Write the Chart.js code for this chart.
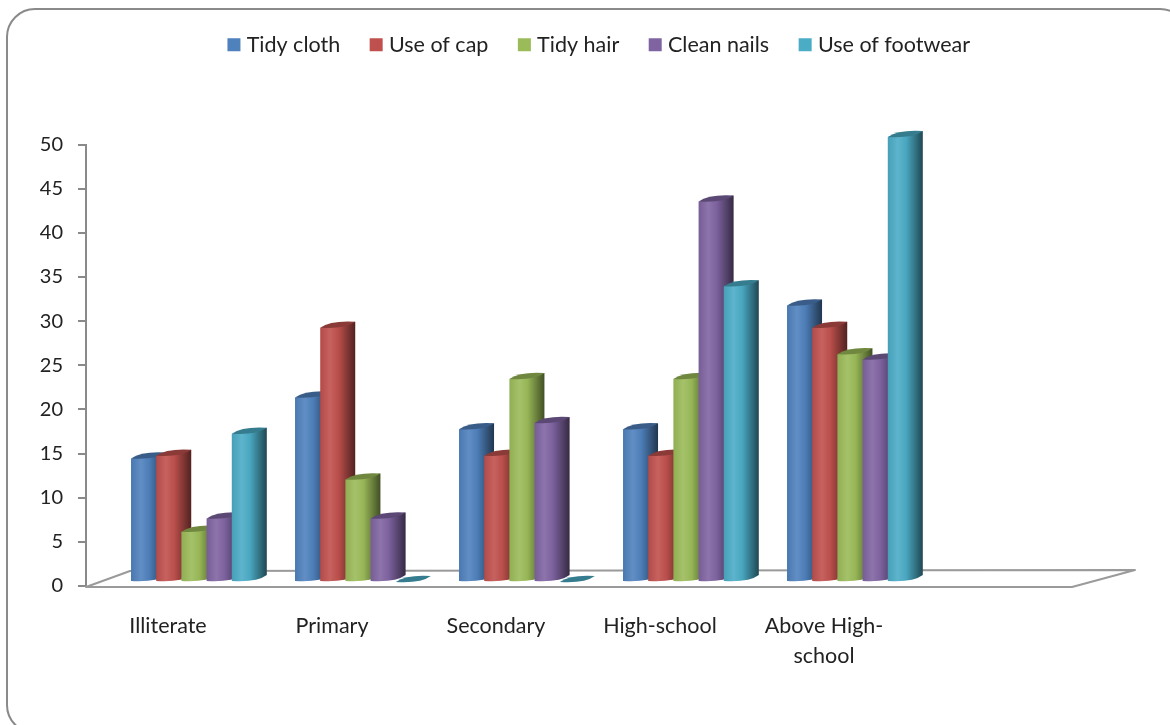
<!DOCTYPE html>
<html>
<head>
<meta charset="utf-8">
<style>
  html, body { margin: 0; padding: 0; background: #fff; }
  canvas { display: block; }
</style>
<script src="https://cdn.jsdelivr.net/npm/chart.js@4/dist/chart.umd.min.js"></script>
</head>
<body>
<canvas id="chart" width="1170" height="725"></canvas>
<script>
// Education levels; the trailing blank slot keeps the empty stretch of floor.
const categories = ["Illiterate", "Primary", "Secondary", "High-school", ["Above High-", "school"], ""];

const tidyCloth   = [14.0, 20.9, 17.3, 17.3, 31.3, null];
const useOfCap    = [14.3, 28.8, 14.3, 14.3, 28.8, null];
const tidyHair    = [5.7, 11.6, 23.0, 23.0, 25.8, null];
const cleanNails  = [7.2, 7.2, 18.0, 43.1, 25.2, null];
const useFootwear = [16.8, 0, 0, 33.5, 50.4, null];

const seriesNames = ["Tidy cloth", "Use of cap", "Tidy hair", "Clean nails", "Use of footwear"];
const seriesValues = [tidyCloth, useOfCap, tidyHair, cleanNails, useFootwear];
const seriesColors = ["#4F81BD", "#C0504D", "#9BBB59", "#8064A2", "#4BACC6"];

const AXIS_GREY = "#8a8a8a";
const TEXT_COLOR = "#222222";
const FONT_FAMILY = "Lato, 'Open Sans', sans-serif";

// Offset of the bar plane inside the 3D floor, and the column's projected depth.
const PLANE_DX = 26;
const PLANE_DY = -4;
const DEPTH_RATIO = 0.39;
const TILT = 6;

function shade(hex, f) {
  const n = parseInt(hex.slice(1), 16);
  const ch = s => {
    const v = (n >> s) & 255;
    const out = f <= 1 ? v * f : v + (255 - v) * (f - 1);
    return Math.round(out);
  };
  return `rgb(${ch(16)},${ch(8)},${ch(0)})`;
}

// Bar element that paints a sheared cylinder instead of a flat rectangle.
class CylinderBar extends Chart.BarElement {
  draw(ctx) {
    const { x, y, base, width, options } = this.getProps(["x", "y", "base", "width", "options"]);
    if (!isFinite(y)) return;
    const color = options.backgroundColor;
    const left = x - width / 2 + PLANE_DX;
    const span = width * (1 + DEPTH_RATIO);
    const right = left + span;
    const top = y + PLANE_DY;
    const bottom = base + PLANE_DY;

    ctx.save();
    if (base - y > 1) {
      const g = ctx.createLinearGradient(left, 0, right, 0);
      g.addColorStop(0, shade(color, 0.93));
      g.addColorStop(0.28, shade(color, 1.1));
      g.addColorStop(0.52, shade(color, 0.97));
      g.addColorStop(0.74, shade(color, 0.72));
      g.addColorStop(1, shade(color, 0.42));
      ctx.fillStyle = g;
      ctx.beginPath();
      ctx.moveTo(left, top);
      ctx.lineTo(left, bottom);
      ctx.quadraticCurveTo(left + span * 0.72, bottom + 1.5, right, bottom - TILT);
      ctx.lineTo(right, top - TILT);
      ctx.closePath();
      ctx.fill();
    }
    // Cap of the column
    ctx.fillStyle = shade(color, 0.72);
    ctx.beginPath();
    ctx.moveTo(left, top);
    ctx.quadraticCurveTo(left + span * 0.3, top - TILT - 1.5, right, top - TILT);
    ctx.quadraticCurveTo(left + span * 0.72, top + 1.5, left, top);
    ctx.closePath();
    ctx.fill();
    ctx.restore();
  }
}
CylinderBar.id = "cylinderBar";
CylinderBar.defaults = Chart.BarElement.defaults;
Chart.register(CylinderBar);
Chart.defaults.datasets.bar.dataElementType = "cylinderBar";

// Outer rounded frame and the 3D floor under the columns.
const backdrop = {
  id: "backdrop",
  beforeDraw(chart) {
    const c = chart.ctx;
    c.save();
    c.strokeStyle = AXIS_GREY;
    c.lineWidth = 2;
    c.beginPath();
    c.roundRect(7, 9, 1181, 724, 28);
    c.stroke();
    c.restore();
  },
  beforeDatasetsDraw(chart) {
    const c = chart.ctx;
    const { left, right, bottom } = chart.chartArea;
    c.save();
    c.strokeStyle = "#9a9a9a";
    c.lineWidth = 2;
    c.lineJoin = "round";
    c.beginPath();
    c.moveTo(left, bottom + 1);
    c.lineTo(right + 2, bottom + 1);
    c.lineTo(right + 65, bottom - 16);
    c.lineTo(left + 44, bottom - 15);
    c.closePath();
    c.stroke();
    c.restore();
    // Paint series front to back so each column overlaps the one before it.
    chart.getSortedVisibleDatasetMetas().forEach(meta => meta.controller.draw());
    return false;
  },
  // Legend sits high above the plot and is centred on the whole frame.
  afterLayout(chart) {
    const l = chart.legend;
    l.top -= 79; l.bottom -= 79;
    l.left += 66; l.right += 66;
  }
};

new Chart(document.getElementById("chart"), {
  type: "bar",
  plugins: [backdrop],
  data: {
    labels: categories,
    datasets: seriesNames.map((name, i) => ({
      label: name,
      data: seriesValues[i],
      backgroundColor: seriesColors[i]
    }))
  },
  options: {
    responsive: false,
    animation: false,
    events: [],
    layout: { padding: { left: 0, right: 100, top: 79, bottom: 0 } },
    categoryPercentage: 0.768,
    barPercentage: 1,
    scales: {
      x: {
        afterFit(s) { s.height = 139; },
        grid: { display: false },
        border: { display: false },
        ticks: {
          padding: 17,
          maxRotation: 0,
          autoSkip: false,
          color: TEXT_COLOR,
          font: { family: FONT_FAMILY, size: 21.5, lineHeight: 1.4 }
        }
      },
      y: {
        min: 0,
        max: 50,
        afterFit(s) { s.width = 86; },
        border: { display: true, color: AXIS_GREY, width: 2 },
        grid: { drawOnChartArea: false, drawTicks: true, tickLength: 8, color: AXIS_GREY, lineWidth: 2 },
        ticks: {
          stepSize: 5,
          padding: 15,
          color: TEXT_COLOR,
          font: { family: FONT_FAMILY, size: 20 }
        }
      }
    },
    plugins: {
      title: { display: false },
      tooltip: { enabled: false },
      legend: {
        position: "top",
        labels: {
          usePointStyle: true,
          pointStyle: "rect",
          boxWidth: 4,
          boxHeight: 13,
          padding: 34,
          color: TEXT_COLOR,
          font: { family: FONT_FAMILY, size: 21.5 }
        }
      }
    }
  }
});
</script>
</body>
</html>
